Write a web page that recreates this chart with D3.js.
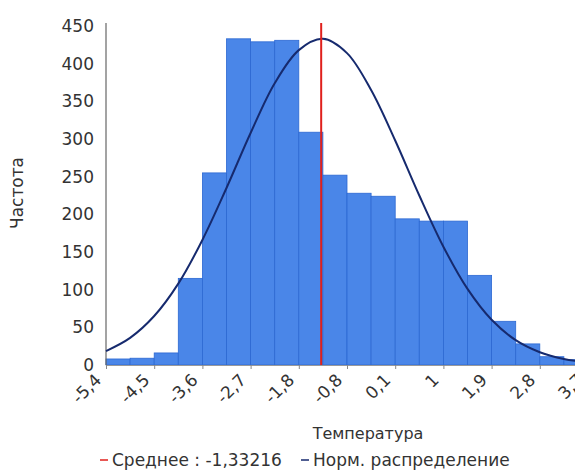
<!DOCTYPE html>
<html>
<head>
<meta charset="utf-8">
<script src="https://cdn.jsdelivr.net/npm/d3@7"></script>
<style>
  body { margin: 0; background: #fff; }
  text { font-family: "DejaVu Sans", Verdana, sans-serif; fill: #333; }
</style>
</head>
<body>
<script>
// histogram of temperatures
var binStart = -5.35;
var binWidth = 0.45;
var counts = [8, 9, 16, 115, 255, 433, 429, 431, 309, 252, 228, 224, 194, 191, 191, 119, 58, 28, 11, 7];
// normal curve, read at each bin edge
var curveVals = [18.5, 36, 65, 108, 166, 235, 308, 374, 418, 433, 414, 365, 298, 225, 157, 101, 60, 33, 17, 8, 3.4];
var tickLabels = ["-5,4", "-4,5", "-3,6", "-2,7", "-1,8", "-0,8", "0,1", "1", "1,9", "2,8", "3,7"];
var yTicks = [0, 50, 100, 150, 200, 250, 300, 350, 400, 450];
var mean = -1.33216;

var w = 575, h = 471;

var svg = d3.select("body").append("svg")
    .attr("width", w)
    .attr("height", h);

var x = d3.scaleLinear()
    .domain([binStart, binStart + counts.length * binWidth])
    .range([106, 588]);

var y = d3.scaleLinear()
    .domain([0, 450])
    .range([365, 26]);

// bars
svg.selectAll("rect.bar")
    .data(counts)
    .enter()
    .append("rect")
    .attr("class", "bar")
    .attr("x", function(d, i) { return x(binStart + i * binWidth); })
    .attr("y", function(d) { return y(d); })
    .attr("width", function(d, i) { return x(binStart + (i + 1) * binWidth) - x(binStart + i * binWidth); })
    .attr("height", function(d) { return y(0) - y(d); })
    .attr("fill", "#4a86e8")
    .attr("stroke", "#2c68d2")
    .attr("stroke-width", 0.8);

// x axis
var xAxis = d3.axisBottom(x)
    .tickValues(tickLabels.map(function(d, i) { return binStart + i * 2 * binWidth; }))
    .tickFormat(function(d, i) { return tickLabels[i]; })
    .tickSize(4);

var gx = svg.append("g")
    .attr("transform", "translate(0," + y(0) + ")")
    .call(xAxis);
gx.select(".domain").attr("stroke", "#999");
gx.selectAll(".tick line").attr("stroke", "#888");
gx.selectAll(".tick text")
    .attr("font-size", 17)
    .attr("fill", "#333")
    .attr("text-anchor", "end")
    .attr("dy", null)
    .attr("y", null)
    .attr("transform", "translate(-4,16) rotate(-45)");

// y axis
var yAxis = d3.axisLeft(y).tickValues(yTicks).tickSize(0).tickPadding(12);
var gy = svg.append("g")
    .attr("transform", "translate(106,0)")
    .call(yAxis);
gy.select(".domain").attr("stroke", "#666").attr("stroke-width", 1.2)
    .attr("d", "M0," + y(0) + "V23");
gy.selectAll(".tick text").attr("font-size", 17).attr("fill", "#333");

// normal curve
var line = d3.line()
    .x(function(d, i) { return x(binStart + i * binWidth); })
    .y(function(d) { return y(d); })
    .curve(d3.curveCatmullRom);

svg.append("path")
    .datum(curveVals)
    .attr("d", line)
    .attr("fill", "none")
    .attr("stroke", "#162a6e")
    .attr("stroke-width", 2);

// mean line
svg.append("line")
    .attr("x1", x(mean)).attr("x2", x(mean))
    .attr("y1", y(0)).attr("y2", 23)
    .attr("stroke", "#e0201c")
    .attr("stroke-width", 2);

// axis titles
svg.append("text")
    .attr("transform", "translate(23,193) rotate(-90)")
    .attr("text-anchor", "middle")
    .attr("font-size", 17)
    .text("Частота");

svg.append("text")
    .attr("x", 368).attr("y", 439)
    .attr("text-anchor", "middle")
    .attr("font-size", 16)
    .text("Температура");

// legend
var legend = [
    { label: "Среднее : -1,33216", color: "#e0201c", x: 100 },
    { label: "Норм. распределение", color: "#162a6e", x: 301 }
];
var lg = svg.selectAll("g.legend")
    .data(legend)
    .enter()
    .append("g")
    .attr("class", "legend")
    .attr("transform", function(d) { return "translate(" + d.x + ",460)"; });
lg.append("line")
    .attr("x1", 0).attr("x2", 8)
    .attr("stroke", function(d) { return d.color; })
    .attr("stroke-width", 1.5);
lg.append("text")
    .attr("x", 12).attr("y", 6)
    .attr("font-size", 17)
    .text(function(d) { return d.label; });
</script>
</body>
</html>
